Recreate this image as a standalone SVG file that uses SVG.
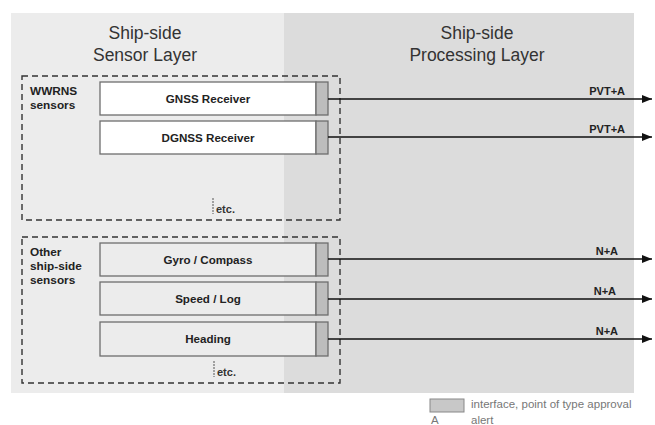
<svg xmlns="http://www.w3.org/2000/svg" width="655" height="425" viewBox="0 0 655 425">
<defs>
<style>
.title{font-family:"Liberation Sans",Arial,sans-serif;font-size:17.5px;fill:#333;text-anchor:middle}
.lbl{font-family:"Liberation Sans",Arial,sans-serif;font-size:11.6px;font-weight:bold;fill:#222}
.side{font-family:"Liberation Sans",Arial,sans-serif;font-size:11.8px;font-weight:bold;fill:#222}
.ctr{text-anchor:middle}
.box{stroke:#6e6e6e;stroke-width:1.3}
.wb{fill:#ffffff}
.gb{fill:#ececec}
.itf{fill:#bdbdbd;stroke:#6e6e6e;stroke-width:1.3}
.dash{fill:none;stroke:#333;stroke-width:1.4;stroke-dasharray:6,4}
.conn{stroke:#111;stroke-width:1.4;fill:none}
.cl{font-family:"Liberation Sans",Arial,sans-serif;font-size:11px;font-weight:bold;fill:#222;text-anchor:end}
.leg{font-family:"Liberation Sans",Arial,sans-serif;font-size:11.5px;fill:#777}
.etc{font-family:"Liberation Sans",Arial,sans-serif;font-size:11px;font-weight:bold;fill:#333}
.etcl{stroke:#555;stroke-width:1;stroke-dasharray:2,1}
</style>
<marker id="arr" markerWidth="10" markerHeight="8" refX="10" refY="4" orient="auto" markerUnits="userSpaceOnUse">
<path d="M0,0 L10,4 L0,8 Z" fill="#111"/>
</marker>
</defs>
<rect x="0" y="0" width="655" height="425" fill="#ffffff"/>
<g id="sensor-layer">
<rect x="11" y="13" width="273" height="380" fill="#ececec"/>
<text class="title" x="145" y="39">Ship-side</text>
<text class="title" x="145" y="61">Sensor Layer</text>
</g>
<g id="processing-layer">
<rect x="284" y="13" width="350" height="380" fill="#dcdcdc"/>
<text class="title" x="477" y="39">Ship-side</text>
<text class="title" x="477" y="61">Processing Layer</text>
</g>
<g id="wwrns-group">
<rect class="dash" x="22" y="76" width="318" height="144"/>
<text class="side" x="30" y="95">WWRNS</text>
<text class="side" x="30" y="109">sensors</text>
<line class="etcl" x1="213" y1="198" x2="213" y2="214"/>
<text class="etc" x="216" y="213">etc.</text>
</g>
<g id="other-group">
<rect class="dash" x="22" y="237" width="318" height="146"/>
<text class="side" x="30" y="256">Other</text>
<text class="side" x="30" y="270">ship-side</text>
<text class="side" x="30" y="284">sensors</text>
<line class="etcl" x1="214" y1="361" x2="214" y2="377"/>
<text class="etc" x="217" y="376">etc.</text>
</g>
<g id="gnss">
<rect class="box wb" x="100" y="82" width="216" height="33"/>
<rect class="itf" x="316" y="82" width="12" height="33"/>
<text class="lbl ctr" x="208" y="103">GNSS Receiver</text>
</g>
<g id="dgnss">
<rect class="box wb" x="100" y="121" width="216" height="33"/>
<rect class="itf" x="316" y="121" width="12" height="33"/>
<text class="lbl ctr" x="208" y="142">DGNSS Receiver</text>
</g>
<g id="gyro">
<rect class="box gb" x="100" y="243" width="216" height="33"/>
<rect class="itf" x="316" y="243" width="12" height="33"/>
<text class="lbl ctr" x="208" y="264">Gyro / Compass</text>
</g>
<g id="speed">
<rect class="box gb" x="100" y="282" width="216" height="33"/>
<rect class="itf" x="316" y="282" width="12" height="33"/>
<text class="lbl ctr" x="208" y="303">Speed / Log</text>
</g>
<g id="heading">
<rect class="box gb" x="100" y="322" width="216" height="34"/>
<rect class="itf" x="316" y="322" width="12" height="34"/>
<text class="lbl ctr" x="208" y="343">Heading</text>
</g>
<g id="connectors">
<line class="conn" x1="328" y1="99" x2="652" y2="99" marker-end="url(#arr)"/>
<line class="conn" x1="328" y1="137" x2="652" y2="137" marker-end="url(#arr)"/>
<line class="conn" x1="328" y1="259" x2="652" y2="259" marker-end="url(#arr)"/>
<line class="conn" x1="328" y1="299" x2="652" y2="299" marker-end="url(#arr)"/>
<line class="conn" x1="328" y1="339" x2="652" y2="339" marker-end="url(#arr)"/>
<text class="cl" x="625" y="95">PVT+A</text>
<text class="cl" x="625" y="133">PVT+A</text>
<text class="cl" x="618" y="255">N+A</text>
<text class="cl" x="616" y="295">N+A</text>
<text class="cl" x="618" y="335">N+A</text>
</g>
<g id="legend">
<rect x="430" y="399" width="34" height="13" fill="#c8c8c8" stroke="#888" stroke-width="1"/>
<text class="leg" x="471" y="408">interface, point of type approval</text>
<text class="leg" x="431" y="424">A</text>
<text class="leg" x="471" y="424">alert</text>
</g>
</svg>
